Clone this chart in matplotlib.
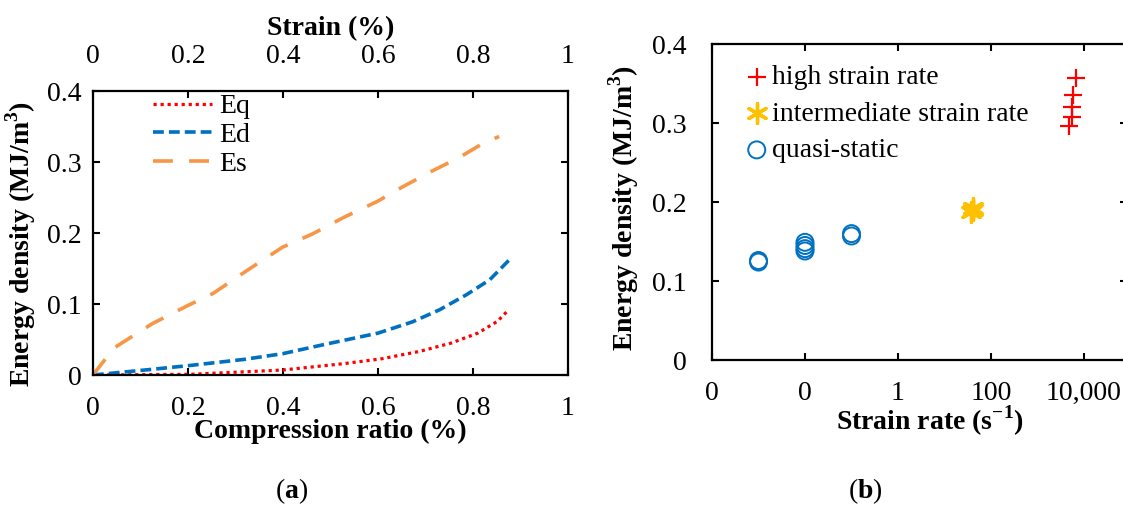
import numpy as np
import matplotlib
matplotlib.use("Agg")
import matplotlib.pyplot as plt
from matplotlib.ticker import FixedLocator, FixedFormatter

plt.rcParams['font.family'] = ['Liberation Serif', 'DejaVu Serif']
plt.rcParams['mathtext.fontset'] = 'custom'
plt.rcParams['mathtext.rm'] = 'Liberation Serif'
plt.rcParams['mathtext.bf'] = 'Liberation Serif:bold'

# (a) energy density vs compression ratio
es_x = [0, 0.044, 0.124, 0.197, 0.253, 0.326, 0.399, 0.463, 0.528, 0.600, 0.649, 0.713, 0.770, 0.818, 0.855]
es_y = [0, 0.038, 0.072, 0.097, 0.115, 0.148, 0.180, 0.199, 0.222, 0.245, 0.264, 0.287, 0.306, 0.325, 0.336]
ed_x = [0, 0.124, 0.205, 0.318, 0.399, 0.487, 0.600, 0.673, 0.730, 0.786, 0.835, 0.879]
ed_y = [0, 0.008, 0.0135, 0.022, 0.030, 0.043, 0.059, 0.075, 0.092, 0.113, 0.134, 0.164]
eq_x = [0, 0.205, 0.399, 0.528, 0.609, 0.689, 0.754, 0.810, 0.851, 0.871]
eq_y = [0, 0.001, 0.007, 0.016, 0.023, 0.0335, 0.045, 0.059, 0.0754, 0.089]
lin_ticks = [0, 0.2, 0.4, 0.6, 0.8, 1]
lin_labels = ['0', '0.2', '0.4', '0.6', '0.8', '1']
e_ticks = [0, 0.1, 0.2, 0.3, 0.4]
e_labels = ['0', '0.1', '0.2', '0.3', '0.4']

# (b) energy density vs strain rate
qs_rate = [0.001, 0.001, 0.01, 0.01, 0.01, 0.01, 0.1, 0.1]
qs_energy = [0.126, 0.124, 0.149, 0.145, 0.141, 0.138, 0.160, 0.157]
mid_rate = [38, 42, 40]
mid_energy = [0.187, 0.190, 0.193]
high_rate = [6700, 5900, 5400, 5600, 4800]
high_energy = [0.357, 0.336, 0.320, 0.308, 0.296]
rate_ticks = [1e-4, 1e-2, 1, 1e2, 1e4]
rate_labels = ['0', '0', '1', '100', '10,000']

FS = 20
fig = plt.figure(figsize=(11.23, 5.05), dpi=100)

ax = fig.add_axes([0.0828, 0.2574, 0.423, 0.5624])
ax.plot(eq_x, eq_y, color='#FF0000', ls=(0, (1, 1.2)), lw=2.3, label='Eq')
ax.plot(ed_x, ed_y, color='#0070C0', ls=(0, (3, 1.4)), lw=2.6, label='Ed')
ax.plot(es_x, es_y, color='#F79646', ls=(0, (5.5, 4.5)), lw=2.6, label='Es')
ax.set_xlim(0, 1)
ax.set_ylim(0, 0.4)
ax.xaxis.set_major_locator(FixedLocator(lin_ticks))
ax.xaxis.set_major_formatter(FixedFormatter(lin_labels))
ax.yaxis.set_major_locator(FixedLocator(e_ticks))
ax.yaxis.set_major_formatter(FixedFormatter(e_labels))
ax.tick_params(direction='in', length=5, width=1.5, labelsize=FS, top=True, right=True)
ax.tick_params(axis='x', pad=15)
ax.tick_params(axis='y', pad=8)
for s in ax.spines.values():
    s.set_linewidth(1.6)
ax.set_xlabel('Compression ratio (%)', fontsize=FS, fontweight='bold')
ax.xaxis.set_label_coords(0.5, -0.155)
ax.set_ylabel(r'Energy density (MJ/m$^{\mathbf{3}}$)', fontsize=FS, fontweight='bold')
ax.yaxis.set_label_coords(-0.116, 0.46)
ax.legend(loc='upper left', bbox_to_anchor=(0.12, 1.0), frameon=False, fontsize=FS,
          handlelength=2.15, handletextpad=0.25, labelspacing=0.12, borderaxespad=0,
          borderpad=0.1)

top = ax.secondary_xaxis('top')
top.xaxis.set_major_locator(FixedLocator(lin_ticks))
top.xaxis.set_major_formatter(FixedFormatter(lin_labels))
top.tick_params(direction='in', length=0, labelsize=FS, pad=16)
top.spines['top'].set_visible(False)
top.set_xlabel('Strain (%)', fontsize=FS, fontweight='bold', labelpad=6)

# log axis cut at the right edge of the figure
ax2 = fig.add_axes([0.634, 0.2871, 0.3696, 0.6257])
ax2.set_xscale('log')
ax2.scatter(high_rate, high_energy, marker='+', s=170, color='#FF0000', linewidths=1.6,
            label='high strain rate', zorder=3)
ax2.scatter(mid_rate, mid_energy, marker=(6, 2, 0), s=200, color='#FFC000', linewidths=2.4,
            label='intermediate strain rate', zorder=3)
ax2.scatter(qs_rate, qs_energy, marker='o', s=150, facecolors='none', edgecolors='#0070C0',
            linewidths=1.4, label='quasi-static', zorder=3)
ax2.set_xlim(1e-4, 10 ** 4.925)
ax2.set_ylim(0, 0.4)
ax2.xaxis.set_major_locator(FixedLocator(rate_ticks))
ax2.xaxis.set_major_formatter(FixedFormatter(rate_labels))
ax2.xaxis.set_minor_locator(FixedLocator([]))
ax2.yaxis.set_major_locator(FixedLocator(e_ticks))
ax2.yaxis.set_major_formatter(FixedFormatter(e_labels))
ax2.tick_params(direction='in', length=5, width=1.5, labelsize=FS, top=True, right=True)
ax2.tick_params(axis='x', pad=15)
ax2.tick_params(axis='y', pad=18)
for s in ax2.spines.values():
    s.set_linewidth(1.6)
ax2.set_xlabel(r'Strain rate (s$^{\mathbf{-1}}$)', fontsize=FS, fontweight='bold')
ax2.xaxis.set_label_coords(0.525, -0.138)
ax2.set_ylabel(r'Energy density (MJ/m$^{\mathbf{3}}$)', fontsize=FS, fontweight='bold')
ax2.yaxis.set_label_coords(-0.17, 0.48)
ax2.legend(loc='upper left', bbox_to_anchor=(0.061, 0.97), frameon=False, fontsize=FS,
           handlelength=0.6, handletextpad=0.25, labelspacing=0.4, borderaxespad=0,
           scatterpoints=1)

fig.text(0.260, 0.028, r'($\mathbf{a}$)', fontsize=FS, ha='center', va='center')
fig.text(0.771, 0.028, r'($\mathbf{b}$)', fontsize=FS, ha='center', va='center')

fig.savefig('out.png', dpi=100)
